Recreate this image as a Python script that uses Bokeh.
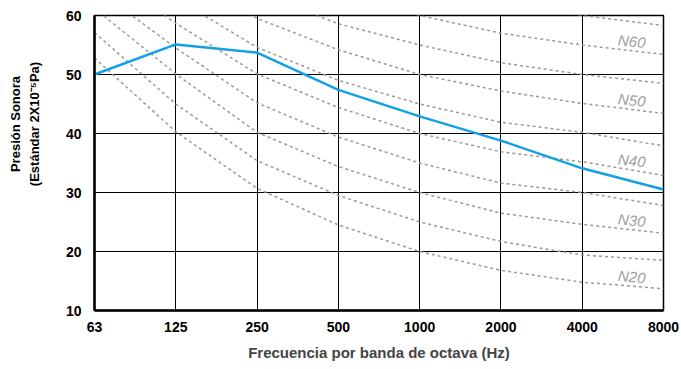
from bokeh.plotting import figure
from bokeh.layouts import row
from bokeh.models import FixedTicker, Div, ColumnDataSource, Range1d
from bokeh.core.properties import value
from bokeh.embed import file_html
from bokeh.resources import INLINE

# ---- data -------------------------------------------------------------
bands = ["63", "125", "250", "500", "1000", "2000", "4000", "8000"]
spectrum = [50.0, 55.1, 53.7, 47.4, 42.9, 38.8, 34.1, 30.5]
y_ticks = [10, 20, 30, 40, 50, 60]

n20 = [52.8, 40.3, 30.7, 24.5, 20.0, 16.8, 14.8, 13.7]
n25 = [57.1, 45.0, 35.4, 29.5, 25.0, 21.7, 19.4, 18.5]
n30 = [61.2, 50.1, 40.2, 34.4, 30.0, 26.5, 24.6, 23.1]
n35 = [64.7, 54.5, 45.2, 39.4, 35.0, 31.6, 30.0, 27.8]
n40 = [68.0, 58.7, 50.1, 44.4, 40.0, 36.9, 35.2, 32.9]
n45 = [72.0, 62.9, 54.6, 49.0, 45.0, 41.9, 40.2, 37.9]
n50 = [76.0, 68.0, 59.5, 54.2, 50.0, 47.2, 45.1, 43.4]
n55 = [80.0, 72.5, 63.8, 58.6, 55.0, 52.0, 50.0, 48.5]
n60 = [84.0, 77.0, 68.5, 63.5, 60.0, 57.0, 55.0, 53.4]
n65 = [88.0, 81.0, 73.0, 68.3, 65.0, 62.0, 60.0, 58.3]
curves = [n20, n25, n30, n35, n40, n45, n50, n55, n60, n65]
curve_names = ["N20", "N25", "N30", "N35", "N40", "N45", "N50", "N55", "N60", "N65"]
labelled = ["N20", "N30", "N40", "N50", "N60"]

y_title_lines = ["Presión Sonora", "(Estándar 2X10⁻⁵Pa)"]
x_title = "Frecuencia por banda de octava (Hz)"

# ---- layout constants ---------------------------------------------------
W_TOTAL, H_TOTAL = 681, 369
TITLE_W = 50
FONT = "Liberation Sans"

# ---- y title as a rotated HTML block left of the figure ----------------
title_html = (
    '<div style="width:160px;line-height:19px;text-align:center;'
    f"font-family:'{FONT}';font-weight:bold;font-size:13px;color:black;"
    'white-space:nowrap;transform:translate(-55px,105px) rotate(-90deg);">'
    + "<br>".join(y_title_lines) + "</div>"
)
ytitle = Div(text=title_html, width=TITLE_W, height=H_TOTAL, margin=0)

# ---- figure -----------------------------------------------------------
xs = list(range(len(bands)))

p = figure(width=W_TOTAL - TITLE_W, height=H_TOTAL, output_backend="svg",
           toolbar_location=None,
           x_range=Range1d(xs[0], xs[-1]), y_range=Range1d(y_ticks[0], y_ticks[-1]),
           min_border_left=94 - TITLE_W, min_border_right=18,
           min_border_top=15, min_border_bottom=59)

p.background_fill_color = "white"
p.border_fill_color = "white"
p.outline_line_color = "black"
p.outline_line_width = 1.5

# grids
p.xgrid.ticker = FixedTicker(ticks=xs)
p.ygrid.ticker = FixedTicker(ticks=y_ticks)
for g in (p.xgrid, p.ygrid):
    g.grid_line_color = "black"
    g.grid_line_width = 1
    g.grid_line_alpha = 1

# axes
p.xaxis.ticker = FixedTicker(ticks=xs)
p.xaxis.major_label_overrides = {i: b for i, b in zip(xs, bands)}
p.yaxis.ticker = FixedTicker(ticks=y_ticks)
for ax in (p.xaxis, p.yaxis):
    ax.axis_line_color = "black"
    ax.axis_line_width = 2.5
    ax.major_tick_line_color = None
    ax.minor_tick_line_color = None
    ax.major_tick_out = 0
    ax.major_tick_in = 0
    ax.major_label_text_font = FONT
    ax.major_label_text_font_size = "14px"
    ax.major_label_text_font_style = "bold"
    ax.major_label_text_color = "black"
p.xaxis.major_label_standoff = 11
p.yaxis.major_label_standoff = 13

p.xaxis.axis_label = x_title
p.xaxis.axis_label_text_font = FONT
p.xaxis.axis_label_text_font_size = "15px"
p.xaxis.axis_label_text_font_style = "bold"
p.xaxis.axis_label_standoff = 9

# NR curves
for c in curves:
    p.line(xs, c, line_color="#9a9a9a", line_width=1.5, line_dash="3 3")

# curve labels, placed just above each curve near the right edge
lx = 6.6
lab_x, lab_y = [], []
for name in labelled:
    c = curves[curve_names.index(name)]
    f = lx - 6
    lab_x.append(lx)
    lab_y.append(c[6] + (c[7] - c[6]) * f)
src = ColumnDataSource(dict(x=lab_x, y=lab_y, t=labelled))
p.text(x="x", y="y", text="t", source=src, text_font=value(FONT),
       text_font_size="15px", text_font_style="italic", text_color="#a0a0a0",
       text_align="center", text_baseline="bottom", angle=-0.1, y_offset=-1)

# measured spectrum
p.line(xs, spectrum, line_color="#14a0e4", line_width=2.5, line_join="round")

layout = row(ytitle, p, spacing=0)
open("out.html", "w").write(file_html(layout, INLINE))
